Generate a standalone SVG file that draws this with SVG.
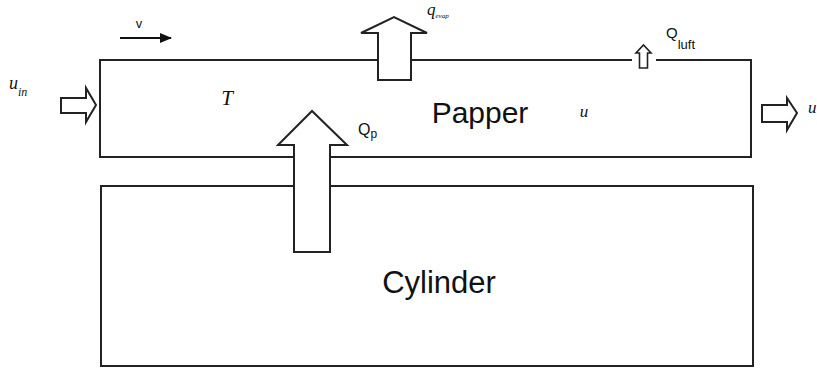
<svg xmlns="http://www.w3.org/2000/svg" width="817" height="372" viewBox="0 0 817 372">
<style>
.box{fill:#fff;stroke:#222;stroke-width:2}
.arr{fill:#fff;stroke:#222;stroke-width:2;stroke-linejoin:miter}
.sans{font-family:"Liberation Sans",Arial,sans-serif;fill:#111}
.ital{font-family:"Liberation Serif","Times New Roman",serif;font-style:italic;fill:#111}
</style>
<defs>
<marker id="ah" viewBox="0 0 12 10" refX="11" refY="5" markerWidth="12" markerHeight="10" markerUnits="userSpaceOnUse" orient="auto">
<path d="M0,0 L12,5 L0,10 Z" fill="#111"/>
</marker>
</defs>
<rect width="817" height="372" fill="#fff"/>
<g id="papper">
<rect class="box" x="100" y="60" width="651" height="97"/>
<text class="sans" x="480" y="123" font-size="30" text-anchor="middle">Papper</text>
<text class="ital" x="227" y="105" font-size="21" text-anchor="middle">T</text>
<text class="ital" x="584" y="117" font-size="17" text-anchor="middle">u</text>
</g>
<g id="cylinder">
<rect class="box" x="101" y="186" width="652" height="180"/>
<text class="sans" x="439" y="293" font-size="31" text-anchor="middle">Cylinder</text>
</g>
<g id="connectors">
<line x1="120" y1="38" x2="171" y2="38" stroke="#111" stroke-width="2" marker-end="url(#ah)"/>
<polygon class="arr" points="61,98 86,98 86,88 96,105 86,122 86,113 61,113"/>
<polygon class="arr" points="762,105 787,105 787,98 797,113 787,130 787,122 762,122"/>
<polygon class="arr" points="378,80 378,33 361,33 394,17 427,33 411,33 411,80"/>
<polygon class="arr" points="294,252 294,145 278,145 312,111 347,145 330,145 330,252"/>
<rect x="632" y="56" width="24" height="8" fill="#fff"/>
<polygon class="arr" points="639.5,68 639.5,53 636,53 643.5,45 651,53 647.5,53 647.5,68" style="stroke-width:1.6"/>
</g>
<g id="labels">
<text class="sans" x="139" y="28" font-size="13" text-anchor="middle">v</text>
<text class="ital" x="9" y="89" font-size="18">u<tspan font-size="12" dy="7">in</tspan></text>
<text class="ital" x="427" y="15" font-size="17">q<tspan font-size="7" dy="3">evap</tspan></text>
<text class="sans" x="358" y="135" font-size="16">Q<tspan font-size="12" dy="3">p</tspan></text>
<text class="sans" x="666" y="38" font-size="15">Q<tspan font-size="13" dy="11">luft</tspan></text>
<text class="ital" x="808" y="113" font-size="17">u</text>
</g>
</svg>
